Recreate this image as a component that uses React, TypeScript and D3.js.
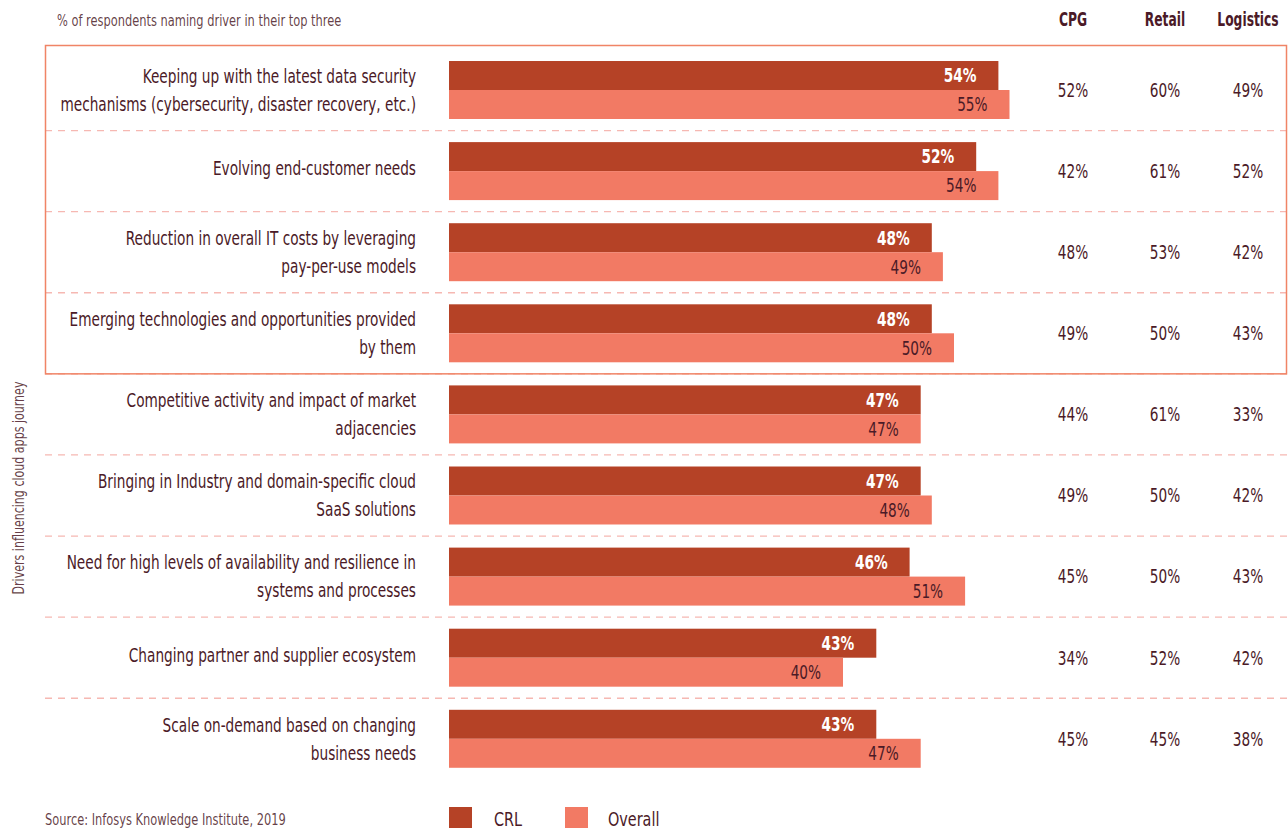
import React from "react";
import * as d3 from "d3";

const drivers: string[][] = [
  ["Keeping up with the latest data security", "mechanisms (cybersecurity, disaster recovery, etc.)"],
  ["Evolving end-customer needs"],
  ["Reduction in overall IT costs by leveraging", "pay-per-use models"],
  ["Emerging technologies and opportunities provided", "by them"],
  ["Competitive activity and impact of market", "adjacencies"],
  ["Bringing in Industry and domain-specific cloud", "SaaS solutions"],
  ["Need for high levels of availability and resilience in", "systems and processes"],
  ["Changing partner and supplier ecosystem"],
  ["Scale on-demand based on changing", "business needs"],
];
const crl = [54, 52, 48, 48, 47, 47, 46, 43, 43];
const overall = [55, 54, 49, 50, 47, 48, 51, 40, 47];
const cpg = [52, 42, 48, 49, 44, 49, 45, 34, 45];
const retail = [60, 61, 53, 50, 61, 50, 50, 52, 45];
const logistics = [49, 52, 42, 43, 33, 42, 43, 42, 38];
const columnHeaders = ["CPG", "Retail", "Logistics"];
const seriesNames = ["CRL", "Overall"];

const FONT = "'DejaVu Sans Condensed', 'DejaVu Sans', sans-serif";
const TEXT = "#4b1a27";
const C_CRL = "#b54226";
const C_OVR = "#f27a64";

type TP = {
  x: number; y: number; sx?: number; size: number; anchor?: "start" | "middle" | "end";
  bold?: boolean; fill?: string; op?: number; children: React.ReactNode; dy?: string;
};
function T({ x, y, sx = 0.8, size, anchor = "start", bold, fill = TEXT, op = 1, children, dy }: TP) {
  return (
    <text transform={`translate(${x},${y}) scale(${sx},1)`} textAnchor={anchor} fontSize={size}
      fontWeight={bold ? "bold" : "normal"} fill={fill} fillOpacity={op} dy={dy}>{children}</text>
  );
}

export default function App() {
  const W = 1288, H = 828;
  const idx = drivers.map((_, i) => i);
  const y = d3.scaleBand<number>().domain(idx).range([37.9, 790.9]).paddingInner(0.285).paddingOuter(0.285);
  const x = d3.scaleLinear().domain([0, 60]).range([399, 399 + 60 * 11.1]);
  const x0 = 449;
  const bw = y.bandwidth();
  const half = bw / 2;
  const gap = (y.step() - bw) / 2;
  const colX = [1073, 1165, 1248];
  const cols = [cpg, retail, logistics];
  return (
    <svg width={W} height={H} style={{ position: "absolute", left: 0, top: 0 }} fontFamily={FONT}>
      <rect width={W} height={H} fill="#fff" />
      <T x={57} y={26} size={15.5} sx={0.82} op={0.85}>% of respondents naming driver in their top three</T>
      {columnHeaders.map((h, j) => (
        <T key={h} x={colX[j]} y={26} size={19} sx={0.72} bold anchor="middle">{h}</T>
      ))}
      {idx.slice(1).map((i) => (
        <line key={"sep" + i} x1={45} x2={1288} y1={y(i)! - gap} y2={y(i)! - gap}
          stroke="#f6b8b2" strokeWidth={1.3} strokeDasharray="7,6" />
      ))}
      {idx.map((i) => {
        const top = y(i)!;
        const cy = top + half;
        const lines = drivers[i];
        return (
          <g key={i}>
            <rect x={x0} y={top} width={x(crl[i]) - x0} height={half} fill={C_CRL} />
            <rect x={x0} y={top + half} width={x(overall[i]) - x0} height={half} fill={C_OVR} />
            <T x={x(crl[i]) - 22} y={top + half / 2} dy="0.36em" anchor="end" size={19} sx={0.8} bold fill="#fff">{crl[i]}%</T>
            <T x={x(overall[i]) - 22} y={top + half * 1.5} dy="0.36em" anchor="end" size={19} sx={0.8}>{overall[i]}%</T>
            {lines.map((l, k) => (
              <T key={k} x={416} y={cy + (k - (lines.length - 1) / 2) * 28 - (lines.length === 1 ? 3 : 0)} dy="0.36em" anchor="end" size={19} sx={0.8}>{l}</T>
            ))}
            {cols.map((c, j) => (
              <T key={j} x={colX[j]} y={cy} dy="0.36em" anchor="middle" size={19} sx={0.8}>{c[i]}%</T>
            ))}
          </g>
        );
      })}
      <rect x={45.5} y={45.5} width={1241} height={y(4)! - gap - 45.5} fill="none" stroke="#f08466" strokeWidth={1.5} />
      <text transform={`translate(24,488) rotate(-90) scale(0.82,1)`} textAnchor="middle" fontSize={15} fill={TEXT} fillOpacity={0.85}>Drivers influencing cloud apps journey</text>
      <T x={45} y={825} size={15.5} sx={0.82} op={0.85}>Source: Infosys Knowledge Institute, 2019</T>
      {seriesNames.map((s, j) => (
        <g key={s}>
          <rect x={449 + j * 116} y={807} width={23} height={22} fill={j === 0 ? C_CRL : C_OVR} />
          <T x={494 + j * 114} y={826} size={20} sx={0.8}>{s}</T>
        </g>
      ))}
    </svg>
  );
}
